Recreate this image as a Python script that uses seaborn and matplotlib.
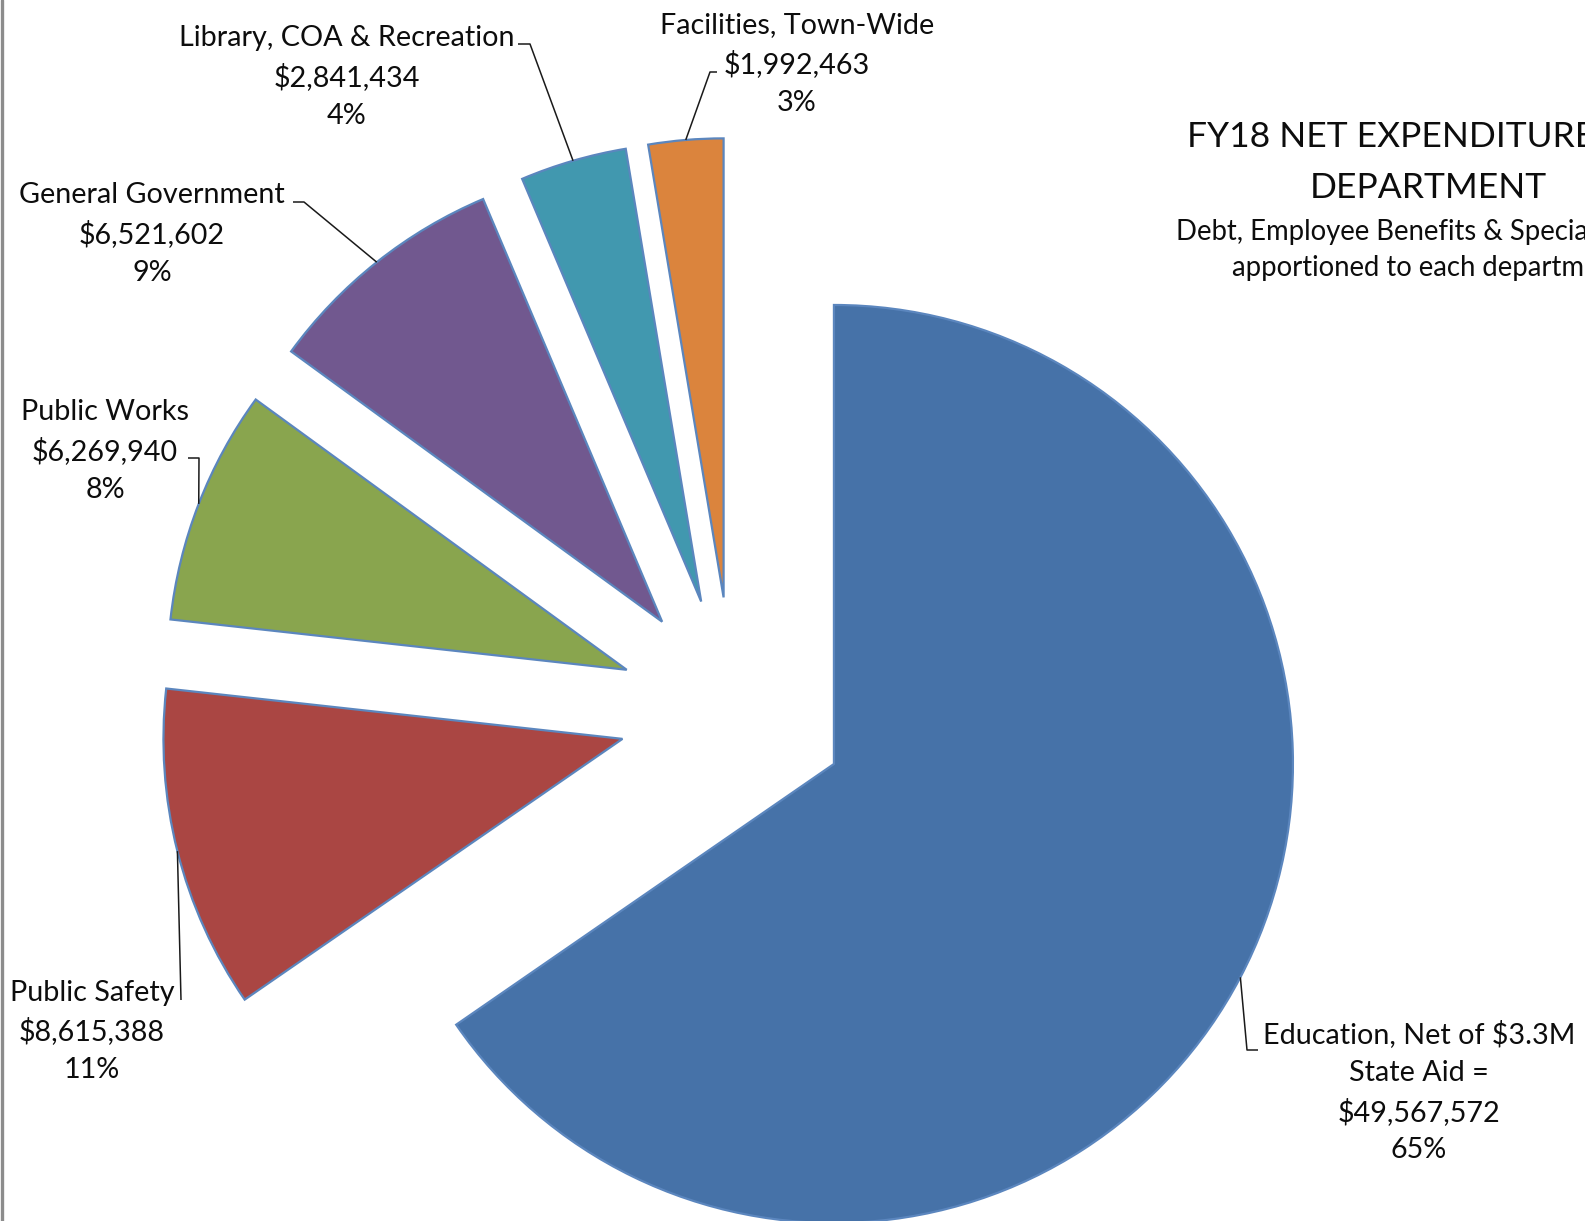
import math
import matplotlib
matplotlib.use("Agg")
import matplotlib.pyplot as plt
import seaborn as sns

# ---- data -------------------------------------------------------------
departments = [
    "Education, Net of $3.3M\nState Aid =",
    "Public Safety",
    "Public Works",
    "General Government",
    "Library, COA & Recreation",
    "Facilities, Town-Wide",
]
amounts = [49567572, 8615388, 6269940, 6521602, 2841434, 1992463]
slice_colors = ["#4672A8", "#AA4643", "#89A54E", "#71588F", "#4198AF", "#DB843D"]

title_lines = ["FY18 NET EXPENDITURES BY", "DEPARTMENT"]
subtitle_lines = ["Debt, Employee Benefits & Special Articles are",
                  "apportioned to each department"]

# ---- canvas (pixel-based coordinates, y measured upward) ---------------
W, H = 1585, 1221
sns.set_theme(style="white")
plt.rcParams["font.family"] = ["Lato", "DejaVu Sans"]

fig = plt.figure(figsize=(W / 100, H / 100), dpi=100)
fig.patch.set_facecolor("white")
ax = fig.add_axes([0, 0, 1, 1])

palette = sns.color_palette(slice_colors)
pie_center = (733, H - 711)
pie_radius = 459
offset = 114

wedges, _ = ax.pie(
    amounts,
    colors=palette,
    startangle=90,
    counterclock=False,
    explode=[offset] * len(amounts),
    radius=pie_radius,
    center=pie_center,
    wedgeprops=dict(edgecolor="#5B86BE", linewidth=1.6),
)
ax.set_xlim(0, W)
ax.set_ylim(0, H)
ax.set_aspect("equal")
ax.axis("off")

# ---- data labels ------------------------------------------------------
total = sum(amounts)
text_color = "#0d0d0d"
line_gap = 38.8
label_size = 20.7
shift = 3  # small downward nudge so the glyphs sit on their lines

# (center x, first-line y from top) for each label block
label_anchor = [(1419, 1031), (92, 989.6), (105, 409.4), (152, 192), (347, 35.4), (797, 22.2)]
# leader elbow (x, y from top) and end of the short stub near the text
leader_elbow = [(1247, 1050), (181, 1000), (199, 458), (304, 202), (530, 44), (710, 72)]
leader_stub = [1258, 181, 188, 293, 518, 717]

for i, (name, amt) in enumerate(zip(departments, amounts)):
    lines = name.split("\n") + [f"${amt:,}", f"{round(100 * amt / total)}%"]
    cx, y0 = label_anchor[i]
    for k, ln in enumerate(lines):
        ax.text(cx, H - (y0 + k * line_gap + shift), ln, ha="center", va="center",
                fontsize=label_size, color=text_color, parse_math=False)

    w = wedges[i]
    mid = math.radians(0.5 * (w.theta1 + w.theta2))
    px = w.center[0] + w.r * math.cos(mid)
    py = w.center[1] + w.r * math.sin(mid)
    ex, ey = leader_elbow[i]
    ax.plot([leader_stub[i], ex, px], [H - ey, H - ey, py],
            color="#1a1a1a", lw=1.1, solid_capstyle="butt", zorder=5)

# ---- title block ------------------------------------------------------
ax.text(1428, H - 134 - shift, title_lines[0], ha="center", va="center",
        fontsize=25.5, color=text_color)
ax.text(1428, H - 185 - shift, title_lines[1], ha="center", va="center",
        fontsize=25.5, color=text_color)
ax.text(1176, H - 229 - shift, subtitle_lines[0], ha="left", va="center",
        fontsize=19.8, color=text_color)
ax.text(1428, H - 265 - shift, subtitle_lines[1], ha="center", va="center",
        fontsize=19.8, color=text_color)

# thin frame edge on the left
fig.add_artist(plt.Line2D([1.5 / W, 1.5 / W], [0, 1], transform=fig.transFigure,
                          color="#8c8c8c", lw=2.4))

fig.savefig("out.png", dpi=100, facecolor="white")
